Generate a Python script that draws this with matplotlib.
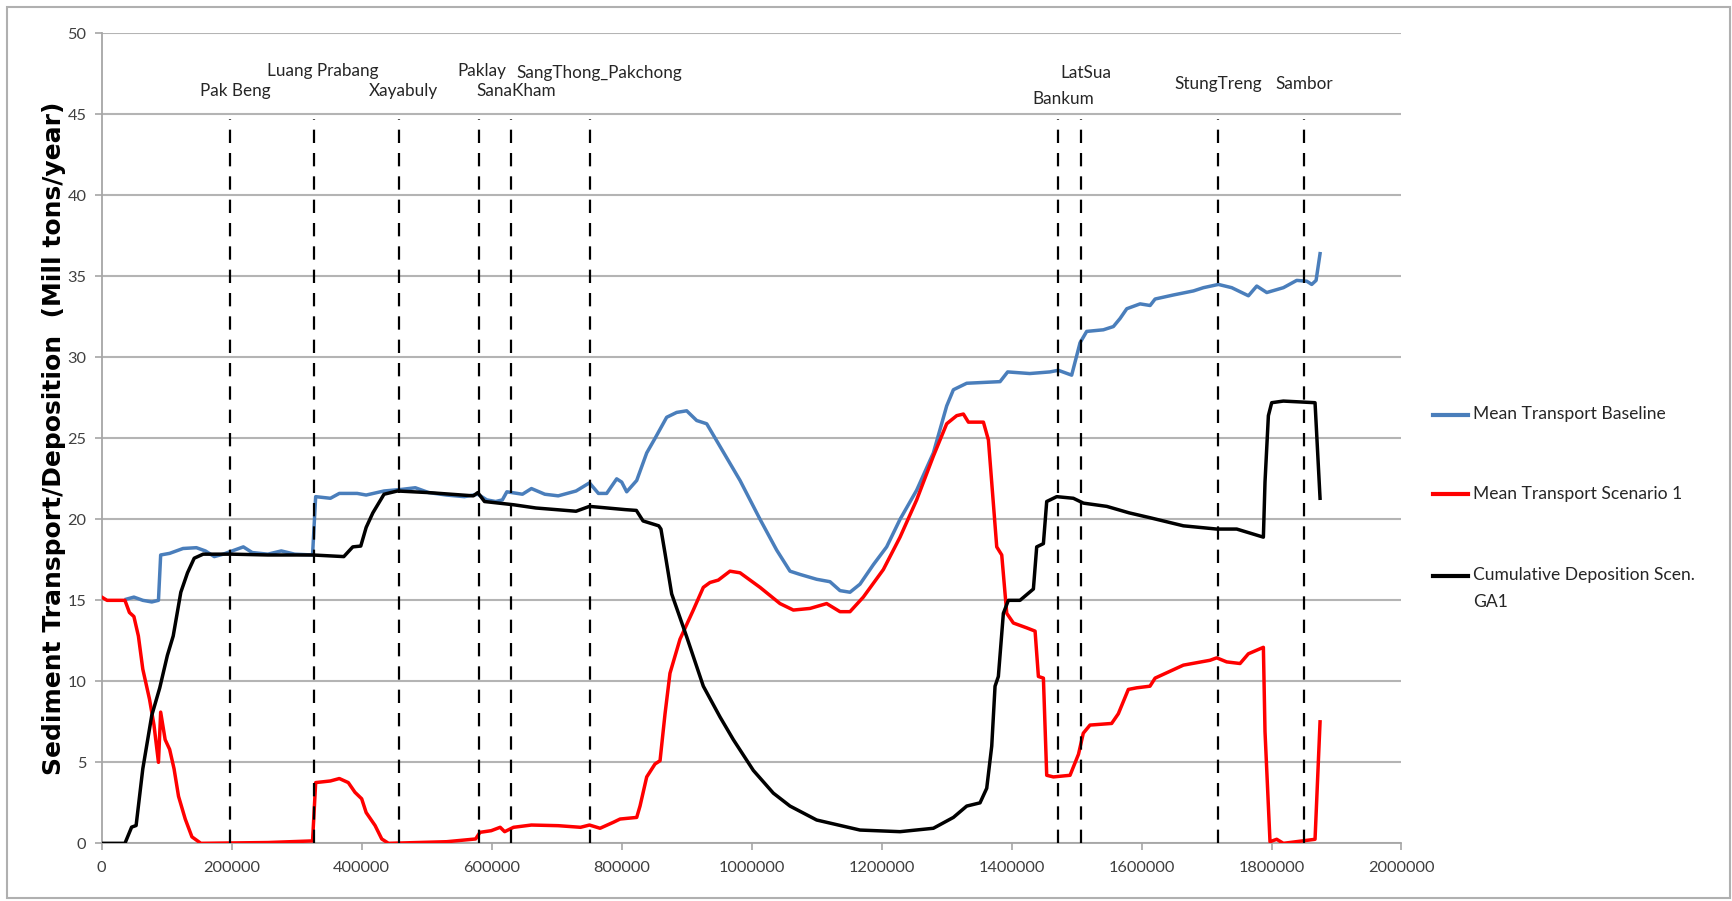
import numpy as np
import matplotlib
matplotlib.use("Agg")
import matplotlib.pyplot as plt
from matplotlib.patches import Rectangle
from matplotlib.lines import Line2D
from matplotlib.ticker import FuncFormatter

# distance along the river vs. sediment transport (Mill tons/year)
base_x = [37800, 49500, 63200, 77000, 87300, 90700, 104500, 125100, 145700, 159500,
          173200, 187000, 200700, 217900, 231600, 255700, 276300, 296900, 324400, 329200,
          351900, 365600, 393100, 406900, 434400, 461900, 482500, 503100, 530600, 558100,
          578700, 592500, 606200, 616500, 623400, 647400, 661200, 681800, 702400, 729900,
          750500, 764300, 777000, 792400, 800100, 807800, 823200, 838600, 851400, 869300,
          884700, 900100, 915500, 930900, 951400, 982200, 1013000, 1038600, 1059100, 1074500,
          1100100, 1120600, 1136000, 1151400, 1166800, 1187300, 1207800, 1228400, 1254000, 1279700,
          1300200, 1310500, 1331000, 1382300, 1394000, 1428000, 1459000, 1472000, 1492500, 1505400,
          1515600, 1541300, 1556700, 1567000, 1577300, 1597800, 1613200, 1620900, 1649100, 1679900,
          1695300, 1718300, 1738800, 1764500, 1777300, 1792700, 1818300, 1838800, 1854200, 1861900,
          1868600, 1874700]
base_y = [15.07, 15.2, 15.0, 14.9, 15.0, 17.8, 17.9, 18.2, 18.25, 18.05,
          17.7, 17.85, 18.05, 18.3, 17.95, 17.85, 18.05, 17.85, 17.8, 21.4,
          21.3, 21.6, 21.6, 21.5, 21.75, 21.85, 21.95, 21.65, 21.5, 21.4,
          21.55, 21.2, 21.1, 21.2, 21.7, 21.55, 21.9, 21.55, 21.45, 21.75,
          22.25, 21.6, 21.6, 22.5, 22.3, 21.7, 22.4, 24.1, 25.0, 26.3,
          26.6, 26.7, 26.1, 25.9, 24.5, 22.4, 20.0, 18.1, 16.8, 16.6,
          16.3, 16.15, 15.6, 15.5, 16.0, 17.2, 18.3, 20.0, 21.8, 24.1,
          27.0, 28.0, 28.4, 28.5, 29.1, 29.0, 29.1, 29.2, 28.9, 30.9,
          31.6, 31.7, 31.9, 32.4, 33.0, 33.3, 33.2, 33.6, 33.85, 34.1,
          34.3, 34.5, 34.3, 33.8, 34.4, 34.0, 34.3, 34.75, 34.7, 34.5,
          34.75, 36.4]

scen_x = [0, 8200, 35700, 42600, 49500, 56400, 63200, 73500, 80400, 87300,
          90700, 97600, 104500, 111300, 118200, 128500, 138800, 152600, 255700, 324400,
          329200, 351900, 365600, 379400, 389700, 400000, 406900, 420600, 430900, 441300,
          530600, 575300, 582100, 599300, 613100, 620000, 633700, 661200, 702400, 736800,
          750500, 766800, 787300, 797600, 823200, 828300, 838600, 851400, 859100, 866800,
          874400, 889800, 910300, 925700, 935900, 948800, 966700, 982200, 1013000, 1043700,
          1064200, 1089900, 1115500, 1136000, 1151400, 1171900, 1202700, 1228400, 1254000, 1279700,
          1300200, 1315600, 1325900, 1333600, 1356700, 1364400, 1377200, 1384900, 1392600, 1402800,
          1423400, 1436200, 1441300, 1449000, 1454100, 1464400, 1490000, 1503000, 1510400, 1520700,
          1554000, 1564300, 1579700, 1592500, 1613000, 1620900, 1664400, 1705400, 1715700, 1731000,
          1751600, 1764400, 1787500, 1790000, 1797700, 1808000, 1818300, 1867000, 1874700]
scen_y = [15.2, 15.0, 15.0, 14.25, 14.0, 12.8, 10.75, 8.9, 7.3, 5.0,
          8.1, 6.4, 5.8, 4.6, 2.9, 1.5, 0.4, 0.0, 0.05, 0.15,
          3.75, 3.85, 4.0, 3.75, 3.15, 2.75, 1.9, 1.1, 0.27, 0.0,
          0.1, 0.27, 0.68, 0.78, 0.99, 0.72, 0.99, 1.13, 1.09, 0.99,
          1.13, 0.93, 1.3, 1.5, 1.6, 2.3, 4.1, 4.9, 5.1, 8.0,
          10.5, 12.6, 14.4, 15.8, 16.1, 16.25, 16.8, 16.7, 15.8, 14.8,
          14.4, 14.5, 14.8, 14.3, 14.3, 15.2, 16.9, 18.9, 21.2, 23.9,
          25.9, 26.4, 26.5, 26.0, 26.0, 24.9, 18.3, 17.8, 14.2, 13.6,
          13.3, 13.1, 10.3, 10.2, 4.2, 4.1, 4.2, 5.5, 6.8, 7.3,
          7.4, 8.0, 9.5, 9.6, 9.7, 10.2, 11.0, 11.3, 11.45, 11.2,
          11.1, 11.7, 12.1, 6.9, 0.1, 0.25, 0.0, 0.25, 7.5]

dep_x = [0, 35700, 46000, 52900, 63200, 77000, 89300, 101000, 110000, 121700,
         132000, 142300, 156000, 200700, 255700, 324400, 372500, 386300, 398600, 406900,
         417200, 434400, 455000, 503100, 571800, 578700, 589000, 633700, 668100, 729900,
         750500, 805500, 822700, 833000, 857100, 860500, 866800, 877000, 900100, 925700,
         951400, 971900, 1002700, 1033400, 1059100, 1100100, 1166800, 1228400, 1279700, 1310500,
         1331000, 1351500, 1361800, 1369500, 1374600, 1379700, 1387400, 1395100, 1413000, 1433600,
         1438700, 1449000, 1454100, 1469500, 1495100, 1510600, 1546500, 1580900, 1613000, 1664400,
         1715700, 1746500, 1787500, 1790000, 1795200, 1800300, 1818200, 1867000, 1874700]
dep_y = [0.0, 0.0, 1.0, 1.1, 4.6, 7.9, 9.6, 11.6, 12.8, 15.5,
         16.7, 17.6, 17.85, 17.85, 17.8, 17.8, 17.7, 18.3, 18.35, 19.5,
         20.4, 21.55, 21.75, 21.65, 21.45, 21.65, 21.1, 20.9, 20.7, 20.5,
         20.8, 20.6, 20.55, 19.9, 19.6, 19.4, 17.9, 15.4, 12.75, 9.7,
         7.8, 6.4, 4.5, 3.1, 2.3, 1.44, 0.82, 0.72, 0.93, 1.6,
         2.3, 2.5, 3.4, 6.0, 9.7, 10.3, 14.2, 15.0, 15.0, 15.7,
         18.3, 18.5, 21.1, 21.4, 21.3, 21.0, 20.8, 20.4, 20.1, 19.6,
         19.4, 19.4, 18.9, 22.3, 26.4, 27.2, 27.3, 27.2, 21.3]

# dam sites
dam_names = ["Pak Beng", "Luang Prabang", "Xayabuly", "Paklay", "SanaKham",
             "SangThong_Pakchong", "Bankum", "LatSua", "StungTreng", "Sambor"]
dam_x = [197300, 326500, 457500, 580000, 629300, 751700, 1471000, 1506800, 1717700, 1850400]
label_x = [206200, 339500, 463800, 585400, 638400, 766200, 1479200, 1515000, 1717800, 1849700]
label_y = [46.46, 47.67, 46.46, 47.67, 46.46, 47.57, 45.93, 47.57, 46.85, 46.85]

series_names = ["Mean Transport Baseline", "Mean Transport Scenario 1",
                "Cumulative Deposition Scen.\nGA1"]
series_colors = ["#4a7ebb", "#ff0000", "#000000"]

plt.rcParams['font.family'] = ["Lato", "DejaVu Sans"]

fig = plt.figure(figsize=(17.33, 9.01), dpi=100)
ax = fig.add_axes([0.0587, 0.064, 0.75, 0.899])

series = [(base_x, base_y), (scen_x, scen_y), (dep_x, dep_y)]
for (sx, sy), c in zip(series, series_colors):
    ax.plot(sx, sy, color=c, lw=2.5, zorder=3)

ax.vlines(dam_x, 0, 44.7, colors="black", linewidth=1.6,
          linestyles=[(0, (6, 4.5))], zorder=4)
for name, lx, ly in zip(dam_names, label_x, label_y):
    ax.text(lx, ly, name, ha="center", va="center", fontsize=12.3, color="#262626")

ax.set_xlim(0, 2000000)
ax.set_ylim(0, 50)
ax.set_xticks(np.arange(0, 2000001, 200000))
ax.set_yticks(np.arange(0, 51, 5))
ax.xaxis.set_major_formatter(FuncFormatter(lambda v, p: "%d" % v))
ax.grid(axis="y", color="#b4b4b4", lw=1.5)
ax.set_axisbelow(True)
for s in ["top", "right"]:
    ax.spines[s].set_visible(False)
for s in ["left", "bottom"]:
    ax.spines[s].set_color("#a6a6a6")
    ax.spines[s].set_linewidth(1.3)
ax.tick_params(axis="both", labelsize=11.8, colors="#a6a6a6", labelcolor="#404040",
               length=5, width=1.2)
ax.tick_params(axis="x", pad=8)
ax.tick_params(axis="y", pad=6)

ax.set_ylabel("Sediment Transport/Deposition  (Mill tons/year)", fontsize=18,
              fontweight="bold", family=["DejaVu Sans"], labelpad=1)

# legend, drawn by hand so the wrapped label keeps its line on the first row
W, H = 1733.0, 901.0
row_y = [414.5, 494.0, 575.8]
for name, c, ry in zip(series_names, series_colors, row_y):
    fy = 1 - ry / H
    fig.add_artist(Line2D([1433.5 / W, 1467.7 / W], [fy, fy], color=c, lw=3,
                          transform=fig.transFigure))
    fig.text(1473 / W, 1 - (ry - 8.5) / H, name, ha="left", va="top", fontsize=12.6,
             color="#262626", linespacing=1.82)

fig.patches.append(Rectangle((0.004, 0.0035), 0.9945, 0.989, transform=fig.transFigure,
                             fill=False, edgecolor="#b0b0b0", lw=1.5))

fig.savefig("out.png", dpi=100)
